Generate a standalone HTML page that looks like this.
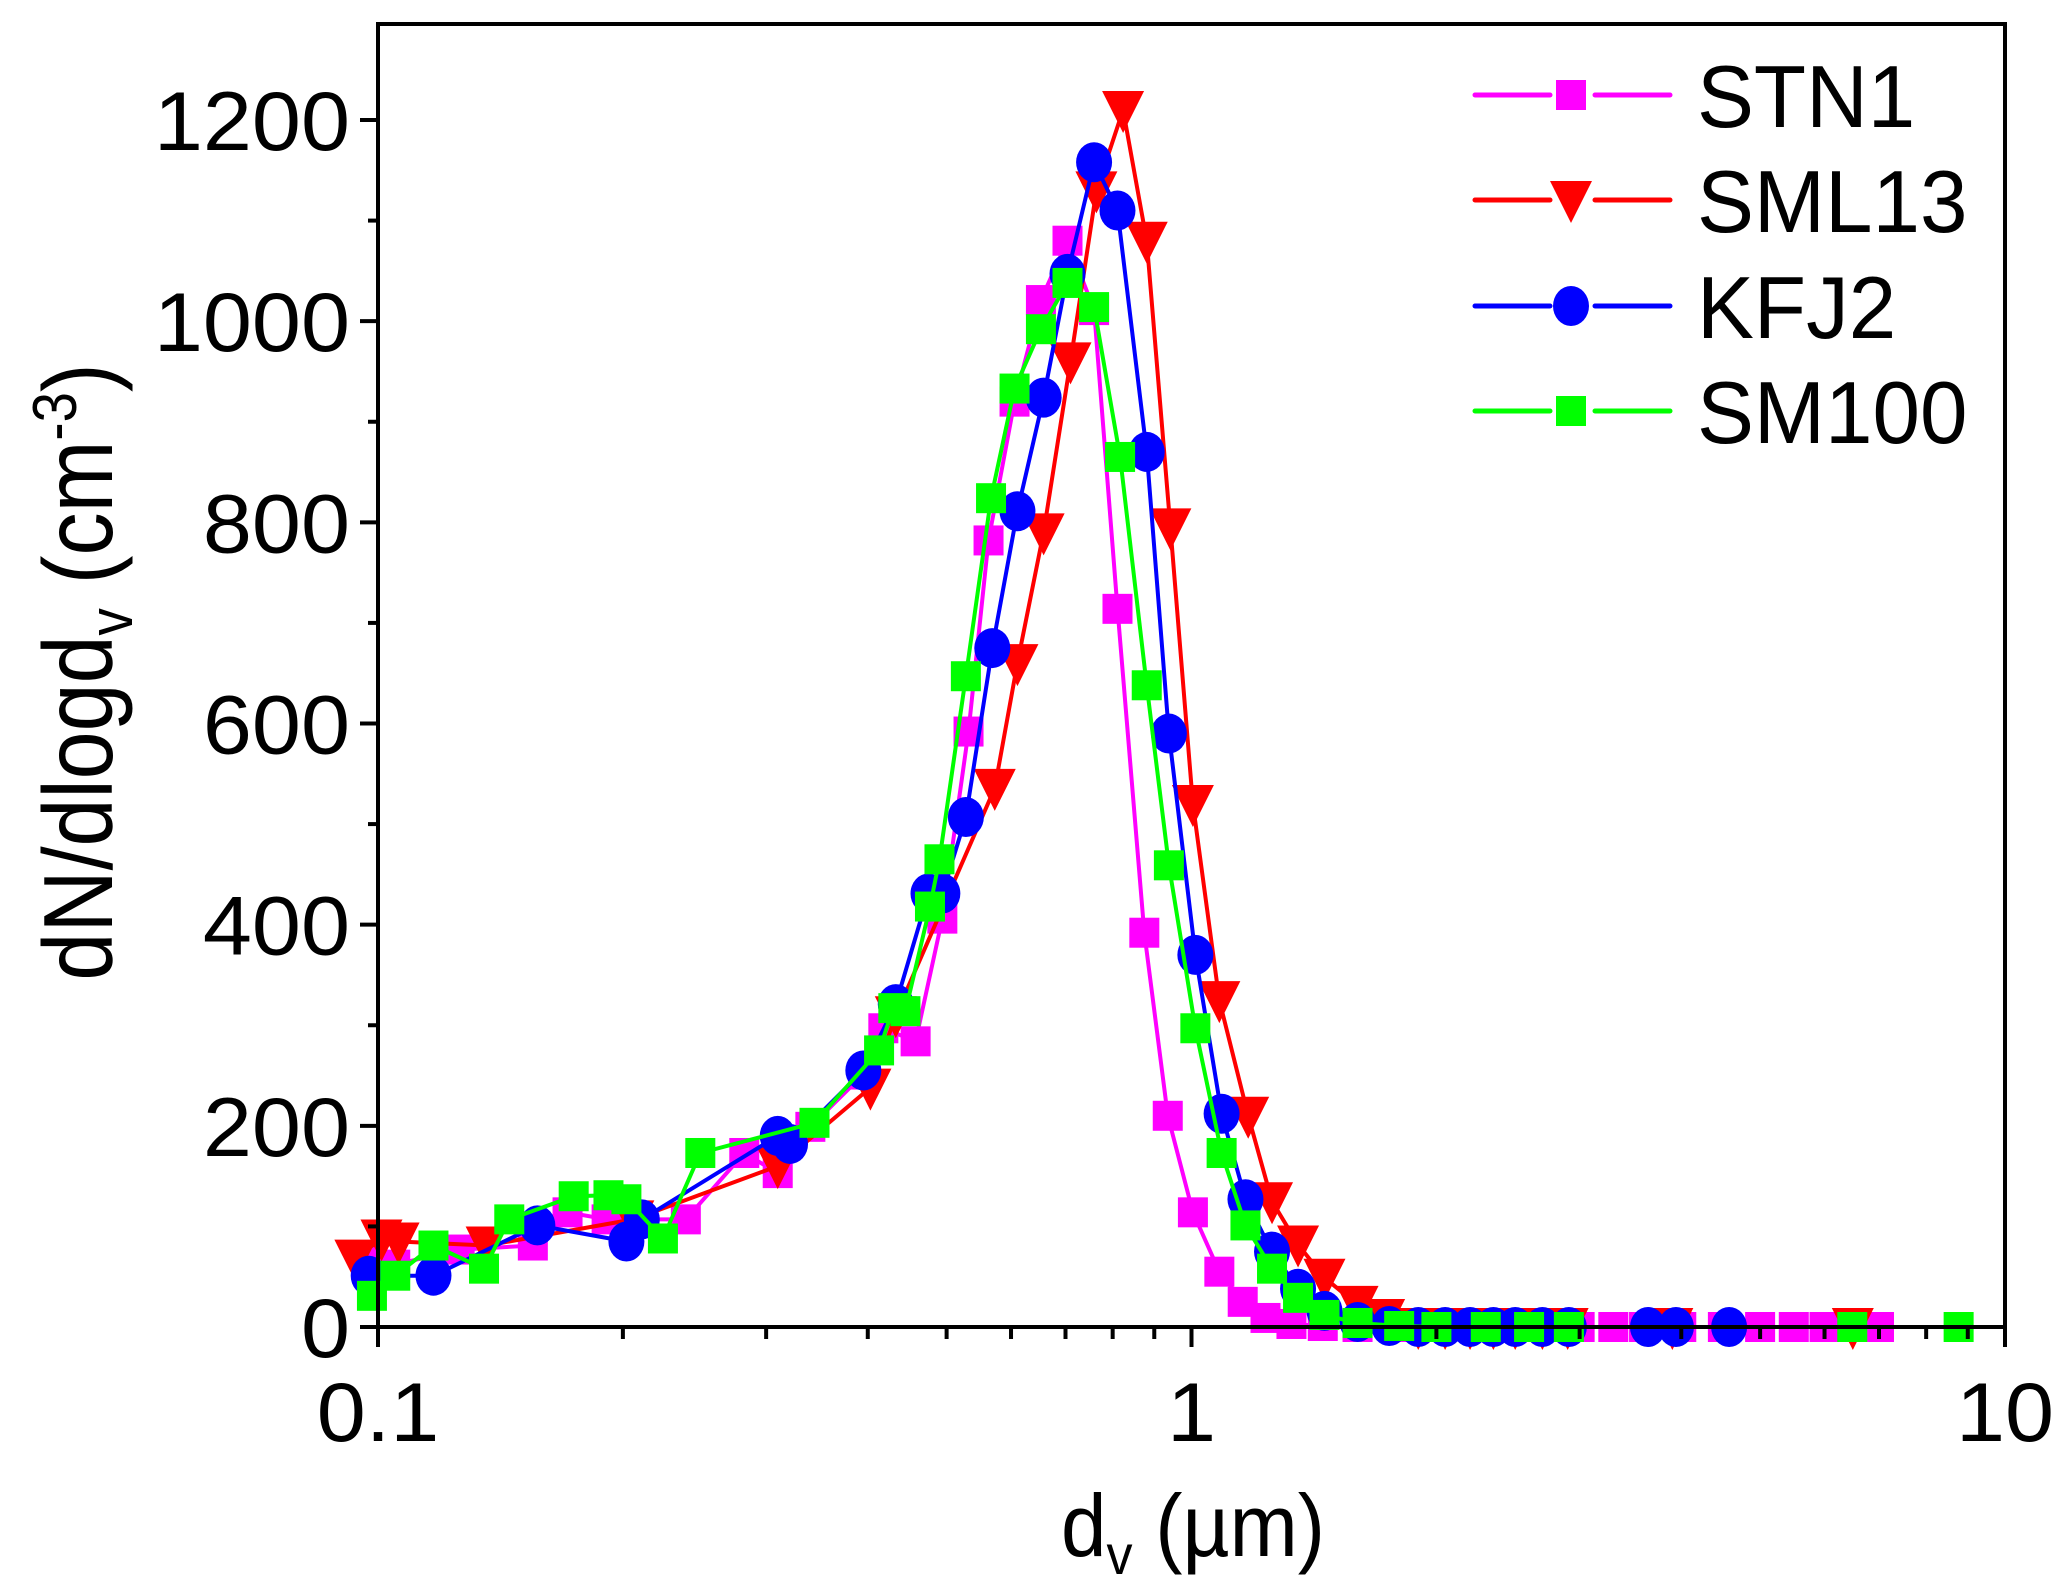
<!DOCTYPE html>
<html><head><meta charset="utf-8"><style>
html,body{margin:0;padding:0;background:#fff}
svg{display:block;font-family:"Liberation Sans",sans-serif}
</style></head><body>
<svg id="chart" width="2067" height="1590" viewBox="0 0 2067 1590" xmlns="http://www.w3.org/2000/svg">
<rect width="2067" height="1590" fill="#fff"/>
<g id="marks"></g>
<g id="axes"></g>
<g id="legend"></g>
</svg>
<script>
const yTicks=[0,200,400,600,800,1000,1200];
const xTicks=[0.1,1,10];
const xTickLabels=["0.1","1","10"];
const seriesNames=["STN1","SML13","KFJ2","SM100"];
const stn1X=[0.098,0.105,0.126,0.155,0.171,0.191,0.239,0.282,0.310,0.340,0.395,0.418,0.458,0.494,0.532,0.563,0.606,0.653,0.704,0.759,0.811,0.875,0.935,1.004,1.082,1.156,1.233,1.327,1.45,1.6,1.8,2.0,2.3,2.6,3.0,3.3,3.6,4.0,4.5,5.0,5.5,6.0,6.5,7.0];
const stn1Y=[68,62,77,81,114,107,107,173,153,199,251,297,284,406,592,782,920,1021,1080,1011,714,392,210,114,55,25,9,3,1,0,0,0,0,0,0,0,0,0,0,0,0,0,0,0];
const sml13X=[0.0938,0.101,0.106,0.136,0.206,0.310,0.403,0.433,0.573,0.611,0.658,0.710,0.764,0.824,0.881,0.942,1.004,1.082,1.174,1.256,1.352,1.457,1.60,1.725,1.9,2.05,2.2,2.35,2.5,2.7,2.9,3.9,6.5];
const sml13Y=[68,88,85,81,107,160,238,310,536,660,790,960,1130,1210,1080,795,520,325,210,125,82,49,22,9,0,0,0,0,0,0,0,0,0];
const kfj2X=[0.0974,0.117,0.157,0.202,0.211,0.310,0.321,0.395,0.433,0.475,0.494,0.528,0.569,0.611,0.658,0.704,0.759,0.811,0.881,0.938,1.011,1.089,1.165,1.256,1.352,1.457,1.6,1.75,1.9,2.05,2.2,2.35,2.5,2.7,2.91,3.64,3.94,4.58];
const kfj2Y=[51,51,101,85,107,190,182,255,321,431,431,507,675,811,924,1047,1158,1110,870,590,370,212,127,75,38,16,5,1,0,0,0,0,0,0,0,0,0,0];
const sm100X=[0.0983,0.105,0.117,0.135,0.145,0.174,0.192,0.202,0.224,0.249,0.344,0.413,0.430,0.445,0.477,0.490,0.528,0.567,0.606,0.653,0.704,0.759,0.817,0.881,0.938,1.011,1.089,1.165,1.256,1.352,1.457,1.6,1.8,2.0,2.3,2.6,2.91,6.49,8.77];
const sm100Y=[31,51,81,58,107,130,131,127,88,173,203,275,317,314,418,465,647,824,933,992,1038,1014,865,638,459,297,173,101,58,29,12,4,1,0,0,0,0,0,0];

const NS="http://www.w3.org/2000/svg";
const L=378,R=2005,T=24,B=1327;
const Y0=1327,Y1200=120;
function xs(d){return L+(R-L)*(Math.log10(d)+1)/2;}
function ys(v){return Y0+(Y1200-Y0)*v/1200;}
function mk(tag,attrs,parent){const e=document.createElementNS(NS,tag);for(const k in attrs)e.setAttribute(k,attrs[k]);parent.appendChild(e);return e;}
const marks=document.getElementById('marks');
const axes=document.getElementById('axes');
const legend=document.getElementById('legend');
const colors=["#ff00ff","#ff0000","#0000ff","#00ff00"];
const shapes=["square","tri","circle","square"];
const dataX=[stn1X,sml13X,kfj2X,sm100X];
const dataY=[stn1Y,sml13Y,kfj2Y,sm100Y];
function marker(shape,cx,cy,col,parent){
  let e;
  if(shape==="square"){e=mk('rect',{x:cx-15,y:cy-15,width:30,height:30,fill:col},parent);}
  else if(shape==="circle"){e=mk('ellipse',{cx:cx,cy:cy,rx:18,ry:20,fill:col},parent);}
  else {e=mk('polygon',{points:`${cx-21},${cy-19} ${cx+21},${cy-19} ${cx},${cy+23}`,fill:col},parent);}
  return e;
}
for(let s=0;s<4;s++){
  const g=mk('g',{},marks);
  
  
  const pts=dataX[s].map((d,i)=>xs(d).toFixed(1)+','+ys(dataY[s][i]).toFixed(1)).join(' ');
  const pl=mk('polyline',{points:pts,fill:'none',stroke:colors[s],'stroke-width':4,'stroke-linejoin':'round'},g);
  
  
  dataX[s].forEach((d,i)=>{
    const m=marker(shapes[s],xs(d),ys(dataY[s][i]),colors[s],g);
    
    
  });
}
const fr=mk('rect',{x:L,y:T,width:R-L,height:B-T,fill:'none',stroke:'#000','stroke-width':4},axes);


for(let v=0;v<=1200;v+=100){
  const major=v%200===0;
  const t=mk('line',{x1:L,x2:L-(major?18:10),y1:ys(v),y2:ys(v),stroke:'#000','stroke-width':4},axes);
  
  
}
yTicks.forEach(v=>{
  const t=mk('text',{x:0,y:0,'text-anchor':'end','font-size':84,fill:'#000',transform:`translate(${L-28},${ys(v)+30}) scale(1.05,1)`},axes);
  t.textContent=v;
  
  
});
for(let dec=-1;dec<=0;dec++){
  for(let k=1;k<=10;k++){
    const d=k*Math.pow(10,dec);
    const major=(k===1||k===10);
    const t=mk('line',{x1:xs(d),x2:xs(d),y1:B,y2:B+(major?20:12),stroke:'#000','stroke-width':4},axes);
    
    
  }
}
xTicks.forEach((d,i)=>{
  const t=mk('text',{x:0,y:0,'text-anchor':'middle','font-size':84,fill:'#000',transform:`translate(${xs(d)},${B+114}) scale(1.05,1)`},axes);
  t.textContent=xTickLabels[i];
  
  
});
const xt=mk('text',{x:0,y:0,'text-anchor':'middle','font-size':88,fill:'#000',transform:'translate(1193,1556) scale(0.93,1)'},axes);
xt.innerHTML='d<tspan font-size="56" dy="18">v</tspan><tspan dy="-18"> (µm)</tspan>';


const yt=mk('text',{x:0,y:0,'text-anchor':'middle','font-size':98,fill:'#000',transform:'translate(112,672) rotate(-90) scale(0.88,1)'},axes);
yt.innerHTML='dN/dlogd<tspan font-size="62" dy="20">v</tspan><tspan dy="-20"> (cm</tspan><tspan font-size="62" dy="-36">-3</tspan><tspan dy="36">)</tspan>';


const legY=[95,200,306,411];
for(let s=0;s<4;s++){
  const g=mk('g',{},legend);
  
  
  mk('line',{x1:1475,x2:1550,y1:legY[s],y2:legY[s],stroke:colors[s],'stroke-width':5,'stroke-linecap':'round'},g);
  mk('line',{x1:1595,x2:1670,y1:legY[s],y2:legY[s],stroke:colors[s],'stroke-width':5,'stroke-linecap':'round'},g);
  marker(shapes[s],1571,legY[s],colors[s],g);
  const t=mk('text',{x:0,y:0,'font-size':88,fill:'#000',transform:`translate(1697,${legY[s]+32}) scale(0.97,1)`},g);
  t.textContent=seriesNames[s];
}
</script>
</body></html>
